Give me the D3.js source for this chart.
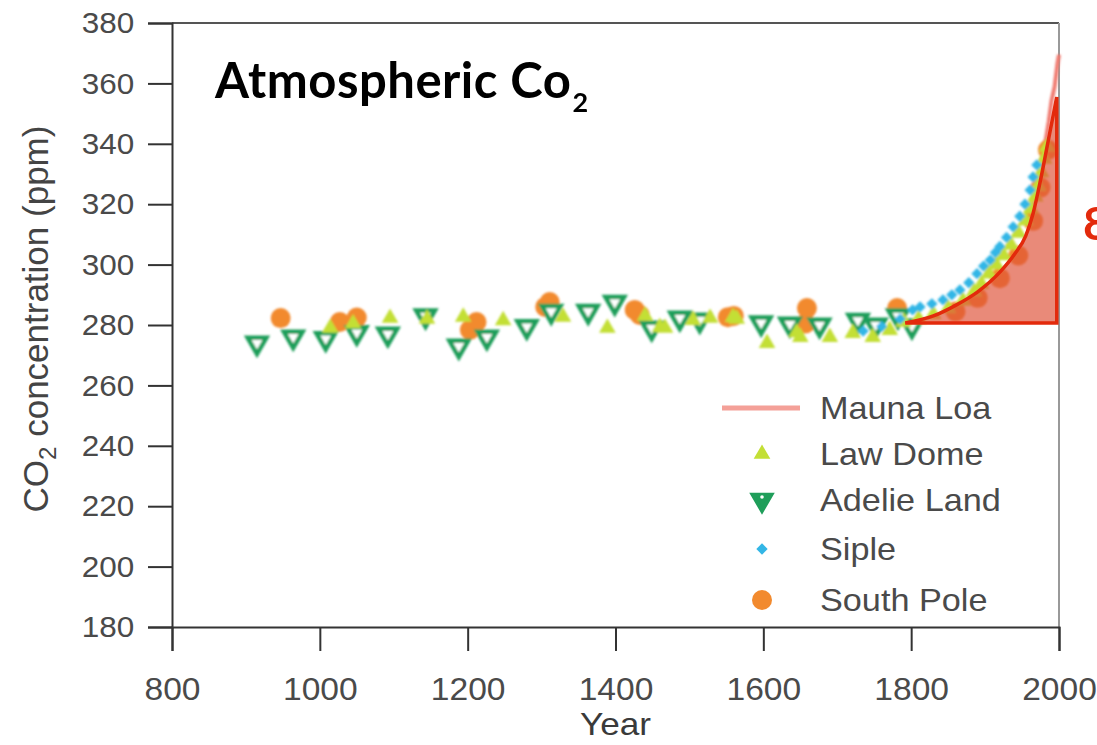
<!DOCTYPE html>
<html>
<head>
<meta charset="utf-8">
<script src="https://cdn.jsdelivr.net/npm/d3@7"></script>
<style>
  body { margin: 0; background: #fff; }
  svg { display: block; }
  .tick text { font-family: "Liberation Sans", Arial, sans-serif; fill: #4a4a4a; }
</style>
</head>
<body>
<svg id="chart" width="1097" height="745"></svg>
<script>
// ---- data ----
const mlYears = [1958, 1962, 1966, 1970, 1974, 1978, 1982, 1986, 1990, 1994, 1998, 2000];
const mlCO2 = [315.3, 318.5, 321.1, 325.7, 330.2, 335.4, 341.1, 347.2, 354.4, 358.8, 366.7, 369.5];

const lawYears = [1014, 1045, 1095, 1145, 1194, 1248, 1329, 1389, 1440, 1460, 1467, 1505, 1528, 1559, 1564, 1605, 1645, 1650, 1690, 1721, 1748, 1771, 1790,
  1810, 1830, 1850, 1870, 1885, 1895, 1905, 1915, 1925, 1935, 1945, 1955, 1962, 1968, 1972, 1976, 1980, 1984];
const lawCO2 = [279, 280.5, 282.3, 282, 282.7, 281.5, 282.7, 279, 283, 279.3, 279, 281.6, 282.3, 282.6, 282, 274, 277.5, 276, 276, 277.3, 276, 278.3, 281,
  282, 283.5, 285.5, 288, 291, 293.5, 297, 300, 303, 306.5, 310.5, 314.5, 318.5, 322.5, 326, 330.5, 335, 339];

const adelieYears = [915, 964, 1008, 1050, 1092, 1143, 1188, 1226, 1280, 1313, 1363, 1399, 1449, 1487, 1514, 1597, 1636, 1676, 1728, 1752, 1782, 1801];
const adelieCO2 = [274, 276, 275.5, 277.5, 277, 283, 273, 276, 279.5, 284.5, 284.5, 287.5, 279, 282.3, 281.6, 280.7, 280.3, 280, 281.5, 280, 283, 279.7];

const sipleYears = [1735, 1760, 1785, 1802, 1812, 1828, 1843, 1855, 1866, 1878, 1889, 1898, 1907, 1914, 1920, 1929, 1938, 1947, 1954, 1961, 1965, 1970];
const sipleCO2 = [278, 279.5, 282, 285, 286, 287, 288.3, 290, 291.6, 294, 297, 299.5, 301.5, 304, 306, 309, 312.5, 316, 320, 324.7, 329, 333];

const spYears = [947, 1027, 1050, 1203, 1212, 1305, 1311, 1426, 1433, 1552, 1560, 1657, 1659, 1781, 1860, 1890, 1920, 1945, 1965, 1975, 1985];
const spCO2 = [282.3, 281, 282.5, 278.4, 281, 286, 287.6, 285, 283.3, 282.6, 283, 280.5, 285.6, 285.6, 284.5, 289, 295.5, 303, 314.5, 325.5, 338];

// hand-drawn red annotation (rise since 1800)
const fitYears = [1792, 1830, 1860, 1890, 1920, 1940, 1955, 1965, 1975, 1985, 1997];
const fitCO2 = [280.7, 283, 286.5, 291, 297.5, 303.5, 309.5, 317, 328, 340.5, 355.5];
const fitBase = 280.7;

const xTicks = [800, 1000, 1200, 1400, 1600, 1800, 2000];
const yTicks = [180, 200, 220, 240, 260, 280, 300, 320, 340, 360, 380];

const legendItems = ["Mauna Loa", "Law Dome", "Adelie Land", "Siple", "South Pole"];

// ---- chart ----
const svg = d3.select("#chart");
const plotL = 172, plotR = 1059, plotT = 23, plotB = 627;

const x = d3.scaleLinear().domain([800, 2000]).range([plotL, plotR]);
const y = d3.scaleLinear().domain([180, 380]).range([plotB, plotT]);

const defs = svg.append("defs");
defs.append("filter").attr("id", "soft")
  .append("feGaussianBlur").attr("stdDeviation", 0.8);

// frame top / right
svg.append("line").attr("x1", plotL).attr("x2", plotR).attr("y1", plotT).attr("y2", plotT)
  .attr("stroke", "#555").attr("stroke-width", 2);
svg.append("line").attr("x1", plotR).attr("x2", plotR).attr("y1", plotT).attr("y2", plotB)
  .attr("stroke", "#999").attr("stroke-width", 2);

const xAxis = svg.append("g")
  .attr("transform", `translate(0,${plotB})`)
  .call(d3.axisBottom(x).tickValues(xTicks).tickFormat(d3.format("d")).tickSize(24).tickPadding(26));
const yAxis = svg.append("g")
  .attr("transform", `translate(${plotL},0)`)
  .call(d3.axisLeft(y).tickValues(yTicks).tickSize(24).tickPadding(14));

[xAxis, yAxis].forEach(g => {
  g.select(".domain").attr("stroke", "#333").attr("stroke-width", 2);
  g.selectAll(".tick line").attr("stroke", "#333").attr("stroke-width", 2);
});
// the source picture is a little stretched sideways
xAxis.selectAll(".tick text").attr("font-size", 32).attr("transform", "scale(1.05,1)");
yAxis.selectAll(".tick text").attr("font-size", 30).attr("x", -36)
  .attr("transform", "scale(1.05,1)");

svg.append("text")
  .attr("transform", `translate(${(plotL + plotR) / 2},735) scale(1.1,1)`)
  .attr("text-anchor", "middle")
  .attr("font-family", "Liberation Sans, Arial, sans-serif")
  .attr("font-size", 32).attr("fill", "#3a3a3a")
  .text("Year");

const yTitle = svg.append("text")
  .attr("transform", `translate(48,${(plotT + plotB) / 2 - 6}) rotate(-90)`)
  .attr("text-anchor", "middle")
  .attr("font-family", "Liberation Sans, Arial, sans-serif")
  .attr("font-size", 35).attr("fill", "#444");
yTitle.append("tspan").text("CO");
yTitle.append("tspan").attr("font-size", 24).attr("dy", 8).text("2");
yTitle.append("tspan").attr("dy", -8).text(" concentration (ppm)");

// marker shapes
const triUp = d3.symbol(d3.symbolTriangle, 120)();
const triDown = d3.symbol(d3.symbolTriangle, 150)();
const square = d3.symbol(d3.symbolSquare, 64)();

const colors = { ml: "#f4a098", law: "#c3df36", adelie: "#1f9e5a", siple: "#33b6e6", sp: "#f28a2e" };

// Mauna Loa line
svg.append("path")
  .datum(mlYears.map((d, i) => [d, mlCO2[i]]))
  .attr("fill", "none").attr("stroke", "#f07a70").attr("stroke-width", 4)
  .attr("filter", "url(#soft)")
  .attr("d", d3.line().x(d => x(d[0])).y(d => y(d[1])));

const marks = svg.append("g").attr("filter", "url(#soft)");

marks.append("g").selectAll("circle")
  .data(spYears.map((d, i) => [d, spCO2[i]]))
  .join("circle")
  .attr("cx", d => x(d[0])).attr("cy", d => y(d[1])).attr("r", 10)
  .attr("fill", colors.sp);

marks.append("g").selectAll("path")
  .data(adelieYears.map((d, i) => [d, adelieCO2[i]]))
  .join("path")
  .attr("d", triDown)
  .attr("transform", d => `translate(${x(d[0])},${y(d[1])}) rotate(180)`)
  .attr("fill", "#fff").attr("stroke", colors.adelie).attr("stroke-width", 4.5);

marks.append("g").selectAll("path")
  .data(lawYears.map((d, i) => [d, lawCO2[i]]))
  .join("path")
  .attr("d", triUp)
  .attr("transform", d => `translate(${x(d[0])},${y(d[1])})`)
  .attr("fill", colors.law);

marks.append("g").selectAll("path")
  .data(sipleYears.map((d, i) => [d, sipleCO2[i]]))
  .join("path")
  .attr("d", square)
  .attr("transform", d => `translate(${x(d[0])},${y(d[1])}) rotate(45)`)
  .attr("fill", colors.siple);

// annotation wedge
const wedge = d3.area()
  .x(d => x(d[0])).y0(y(fitBase)).y1(d => y(d[1]))
  .curve(d3.curveMonotoneX);
svg.append("path")
  .datum(fitYears.map((d, i) => [d, fitCO2[i]]))
  .attr("d", wedge)
  .attr("fill", "rgb(222,82,58)").attr("fill-opacity", 0.68)
  .attr("stroke", "#e32a0c").attr("stroke-width", 3.5).attr("stroke-linejoin", "miter");

// legend
const leg = svg.append("g").attr("font-family", "Liberation Sans, Arial, sans-serif");
const legY = [408, 454, 500, 549, 600];
leg.selectAll("text")
  .data(legendItems)
  .join("text")
  .attr("transform", (d, i) => `translate(820,${legY[i]}) scale(1.07,1)`)
  .attr("dy", "0.35em")
  .attr("font-size", 32).attr("fill", "#4a4a4a")
  .text(d => d);
leg.append("line").attr("x1", 722).attr("x2", 800).attr("y1", legY[0]).attr("y2", legY[0])
  .attr("stroke", colors.ml).attr("stroke-width", 5);
leg.append("path").attr("d", triUp).attr("transform", `translate(762,${legY[1]})`).attr("fill", colors.law);
leg.append("path").attr("d", triDown).attr("transform", `translate(762,${legY[2]}) rotate(180)`)
  .attr("fill", colors.adelie).attr("stroke", colors.adelie).attr("stroke-width", 4);
leg.append("circle").attr("cx", 762).attr("cy", legY[2] - 3).attr("r", 1.8).attr("fill", "#fff");
leg.append("path").attr("d", square).attr("transform", `translate(762,${legY[3]}) rotate(45)`).attr("fill", colors.siple);
leg.append("circle").attr("cx", 762).attr("cy", legY[4]).attr("r", 10).attr("fill", colors.sp);

// title
const title = svg.append("text")
  .attr("x", 215).attr("y", 98)
  .attr("font-family", "Lato, 'Open Sans', sans-serif")
  .attr("font-weight", "bold").attr("font-size", 49).attr("fill", "#000")
  .attr("letter-spacing", 0.5);
title.append("tspan").text("Atmospheric Co");
title.append("tspan").attr("font-size", 27).attr("dx", 1).attr("dy", 14).text("2");

// clipped red label at the right edge, as in the source
svg.append("text")
  .attr("x", 1083).attr("y", 240)
  .attr("font-family", "Lato, 'Open Sans', sans-serif")
  .attr("font-weight", "bold").attr("font-size", 46).attr("fill", "#e32a0c")
  .text("8");
</script>
</body>
</html>
